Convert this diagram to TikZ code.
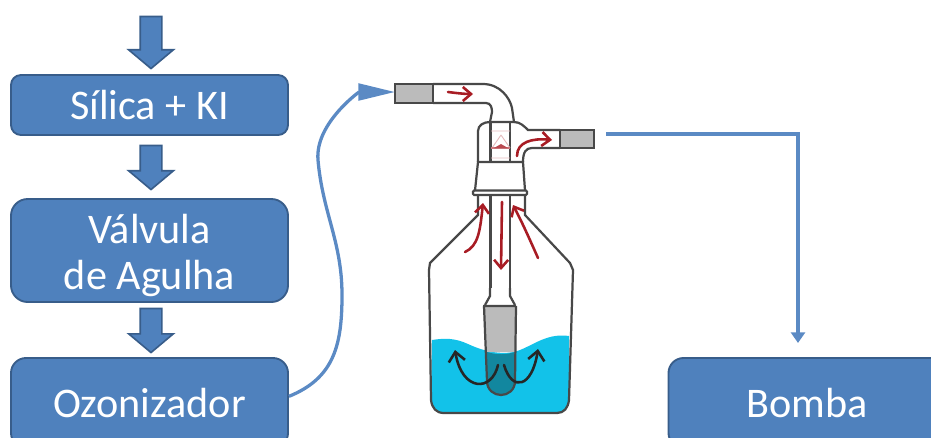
\documentclass[tikz,border=0pt]{standalone}
\usepackage{fontspec}
\setmainfont{Carlito}
\usetikzlibrary{arrows.meta,shapes.arrows}
\definecolor{azulbloco}{HTML}{4F81BD}
\definecolor{azulborda}{HTML}{385D8A}
\definecolor{azullinha}{HTML}{5B8AC4}
\definecolor{agua}{HTML}{12C2E9}
\definecolor{aguaescura}{HTML}{12879F}
\definecolor{vidro}{HTML}{484848}
\definecolor{placa}{HTML}{BBBBBB}
\definecolor{fluxo}{HTML}{A81C24}
\tikzset{
    bloco/.style={draw=azulborda, fill=azulbloco, line width=1.6pt, text=white, align=center,
        font=\fontsize{36}{39}\selectfont, minimum width=8.31cm},
    seta/.style={draw=azulborda, fill=azulbloco, line width=1.4pt, shape=single arrow,
        shape border rotate=270, single arrow head extend=0.345cm, single arrow tip angle=100,
        single arrow head indent=0pt, minimum width=1.32cm, inner sep=0.3cm, text width=0pt},
    tubo/.style={draw=azullinha, line width=2.8pt},
    parede/.style={draw=vidro, line width=1.9pt},
    fluxored/.style={draw=fluxo, line width=2.2pt, line cap=round, -{Straight Barb[length=7pt,width=12pt]}},
    fluxoblack/.style={draw=black!85, line width=2.2pt, line cap=round, -{Straight Barb[length=8pt,width=14pt]}}
}
\begin{document}
\begin{tikzpicture}[x=0.03cm, y=-0.03cm]
    \useasboundingbox (0,0) rectangle (931,437);
    \clip (0,0) rectangle (931,437);

    % Blocos
    \node[bloco, minimum height=1.8cm, rounded corners=0.3cm] (silica) at (149.5,105) {Sílica + KI};
    \node[bloco, minimum height=3.09cm, rounded corners=0.5cm] (valvula) at (149.5,250.5) {\rule{0pt}{33pt}Válvula\\de Agulha};
    \node[bloco, minimum height=2.7cm, rounded corners=0.45cm] (ozonizador) at (149.5,403) {Ozonizador};
    \node[bloco, minimum height=2.7cm, rounded corners=0.45cm] (bomba) at (807,403) {Bomba};

    % Setas largas
    \node[seta, minimum height=1.56cm] (seta1) at (151,38) {};
    \node[seta, minimum height=1.32cm] (seta2) at (151,163) {};
    \node[seta, minimum height=1.32cm] (seta3) at (151,326) {};

    % Agua
    \fill[agua] (432,340) .. controls (445,338) and (455,338) .. (468,344)
        .. controls (485,352) and (505,356) .. (520,350)
        .. controls (535,344) and (548,333) .. (569,336)
        -- (569,400) .. controls (568,408) and (564,413) .. (557,413)
        -- (444,413) .. controls (436,413) and (432,408) .. (431,400) -- cycle;

    % Placa porosa
    \fill[placa] (483,306) -- (516,306) -- (515,352) -- (487,352) -- cycle;
    \fill[aguaescura] (487,352) .. controls (497,355) and (505,355) .. (515,352)
        -- (515,381) .. controls (515,390) and (508,395) .. (501,395)
        .. controls (494,395) and (487,390) .. (487,381) -- cycle;
    \draw[parede] (483,306) -- (516,306) (484,306) -- (487,381)
        .. controls (487,390) and (494,395) .. (501,395)
        .. controls (508,395) and (515,390) .. (515,381) -- (516,306);
    \draw[parede] (490,288) -- (490,296) -- (485,305) (510,288) -- (510,296) -- (515,305);

    % Frasco
    \draw[parede] (478,195) -- (478,215) -- (430,263) -- (429,270) -- (431,400)
        .. controls (432,408) and (436,413) .. (444,413) -- (557,413)
        .. controls (564,413) and (568,408) .. (569,400) -- (573,270) -- (570,263) -- (525,215)
        -- (525,195);
    \draw[parede, fill=white, rounded corners=1pt] (473,190.5) rectangle (527,195);

    % Tubo interno
    \draw[parede] (490.5,122) -- (490.5,162) (510,122) -- (510,162);
    \draw[parede] (490.5,195) -- (490.5,288) (510,195) -- (510,288);

    % Cabeca do frasco
    \draw[parede] (475,190.5) -- (478,162) -- (523,162) -- (525,190.5);
    \draw[parede] (478,162) -- (478,131) .. controls (478,125) and (484,122) .. (490,122)
        -- (514,122) .. controls (520,122) and (524,126) .. (528,130) -- (560,130);
    \draw[parede] (560,148) -- (532,148) .. controls (526,148) and (523,152) .. (523,162);

    % Tubo de entrada
    \draw[parede] (433,84) -- (483,84) .. controls (500,84) and (510,98) .. (512,108) -- (514,122);
    \draw[parede] (433,103) -- (486,103) .. controls (491,103) and (492,108) .. (492,112) -- (490,122);

    % Tampoes
    \node[draw=vidro, fill=placa, line width=1.9pt, inner sep=0pt, minimum width=1.12cm, minimum height=0.57cm] (tampao1) at (414,93.5) {};
    \node[draw=vidro, fill=placa, line width=1.9pt, inner sep=0pt, minimum width=1.03cm, minimum height=0.54cm] (tampao2) at (577,139) {};

    % Detalhe interno (rosa)
    \draw[fluxo!30, line width=0.8pt] (491,131) -- (510,131) (491,158) -- (510,158) (501,135) -- (492,148) (501,135) -- (510,148);
    \draw[fluxo!60, line width=1pt] (491,148) -- (510,148);
    \fill[fluxo!80] (494,148) -- (501,144) -- (508,148) -- cycle;

    % Setas vermelhas
    \draw[fluxored] (448,92) .. controls (456,93) and (464,94) .. (473,94);
    \draw[fluxored] (517,156) .. controls (517,142) and (532,138) .. (552,140);
    \draw[fluxored] (465,252) .. controls (478,246) and (480,232) .. (483,203);
    \draw[fluxored] (538,258) .. controls (530,240) and (522,222) .. (513,205);
    \draw[fluxored] (502,202) -- (501,270);

    % Setas pretas
    \draw[fluxoblack] (498,365) .. controls (492,392) and (462,392) .. (455,350);
    \draw[fluxoblack] (504,365) .. controls (512,392) and (532,388) .. (538,349);

    % Conexoes
    \coordinate (entrada) at (395,92);
    \coordinate (curva1) at (342,295);
    \coordinate (curva2) at (318,160);
    \coordinate (saida) at (606,134);
    \coordinate (canto) at (798,134);
    \coordinate (chegada) at (798,343);
    \draw[tubo, -{Triangle[length=1.1cm,width=0.5cm]}] ([yshift=0.2cm]ozonizador.east)
        to[out=22, in=-90, looseness=1.1] (curva1)
        to[out=90, in=-85, looseness=1] (curva2)
        to[out=95, in=180, looseness=0.9] (entrada);
    \draw[tubo, -{Triangle[length=0.32cm,width=0.42cm]}] (saida) -- (canto) -- (chegada);
\end{tikzpicture}
\end{document}
